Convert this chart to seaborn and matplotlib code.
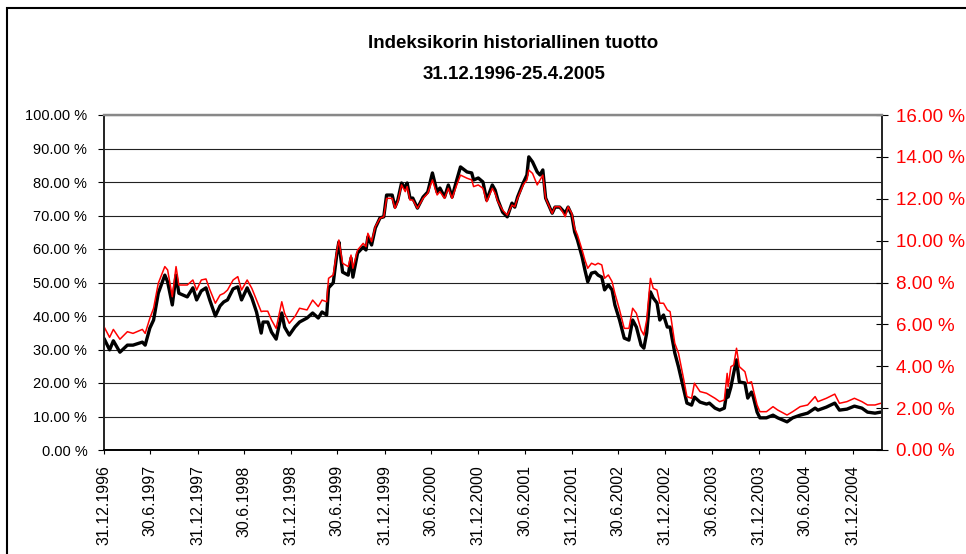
import datetime as dt
import numpy as np
import pandas as pd
import matplotlib
matplotlib.use("Agg")
import matplotlib.pyplot as plt
from matplotlib import font_manager as fm
from matplotlib.patches import Rectangle
from matplotlib.ticker import FuncFormatter
import seaborn as sns

# ---------------- data ----------------
title_line1 = "Indeksikorin historiallinen tuotto"
title_line2 = "31.12.1996-25.4.2005"

start_date = "1996-12-31"
end_date = "2005-04-25"

# time in fractional years (1997.00 == 31.12.1996)
years = [
    1997.00, 1997.06, 1997.10, 1997.17, 1997.25, 1997.31, 1997.41, 1997.44, 1997.49, 1997.53,
    1997.58, 1997.65, 1997.68, 1997.73, 1997.77, 1997.80, 1997.89, 1997.95, 1997.99, 1998.04,
    1998.09, 1998.13, 1998.19, 1998.24, 1998.28, 1998.32, 1998.38, 1998.43, 1998.47, 1998.53,
    1998.58, 1998.63, 1998.68, 1998.70, 1998.75, 1998.79, 1998.84, 1998.90, 1998.93, 1998.98,
    1999.04, 1999.09, 1999.17, 1999.23, 1999.29, 1999.33, 1999.38, 1999.40, 1999.45, 1999.49,
    1999.51, 1999.55, 1999.61, 1999.64, 1999.66, 1999.71, 1999.77, 1999.80, 1999.82, 1999.86,
    1999.90, 1999.95, 1999.99, 2000.02, 2000.08, 2000.11, 2000.14, 2000.18, 2000.22, 2000.24,
    2000.27, 2000.30, 2000.35, 2000.41, 2000.46, 2000.51, 2000.56, 2000.59, 2000.64, 2000.68,
    2000.72, 2000.77, 2000.81, 2000.88, 2000.93, 2000.95, 2001.00, 2001.05, 2001.09, 2001.15,
    2001.18, 2001.21, 2001.26, 2001.31, 2001.36, 2001.39, 2001.42, 2001.48, 2001.52, 2001.54,
    2001.58, 2001.63, 2001.66, 2001.69, 2001.72, 2001.79, 2001.82, 2001.87, 2001.93, 2001.96,
    2002.00, 2002.03, 2002.06, 2002.11, 2002.14, 2002.17, 2002.21, 2002.25, 2002.28, 2002.32,
    2002.35, 2002.39, 2002.43, 2002.46, 2002.51, 2002.56, 2002.61, 2002.65, 2002.69, 2002.74,
    2002.77, 2002.80, 2002.84, 2002.87, 2002.91, 2002.94, 2002.98, 2003.02, 2003.05, 2003.10,
    2003.14, 2003.19, 2003.23, 2003.28, 2003.31, 2003.37, 2003.44, 2003.47, 2003.53, 2003.58,
    2003.63, 2003.66, 2003.67, 2003.70, 2003.73, 2003.76, 2003.79, 2003.85, 2003.88, 2003.92,
    2003.94, 2003.98, 2004.01, 2004.08, 2004.15, 2004.20, 2004.30, 2004.36, 2004.44, 2004.52,
    2004.60, 2004.63, 2004.72, 2004.81, 2004.86, 2004.94, 2005.02, 2005.10, 2005.16, 2005.24,
    2005.30,
]

# index basket return (left axis, %)
index_return = [
    33.3, 29.9, 32.6, 29.2, 31.3, 31.3, 32.2, 31.3, 36.4, 38.8,
    46.8, 52.2, 50.2, 43.3, 52.2, 46.8, 45.7, 48.4, 44.8, 47.5,
    48.4, 44.8, 40.0, 43.0, 44.2, 44.8, 48.1, 48.7, 44.8, 48.4,
    45.4, 41.2, 34.9, 38.2, 38.2, 35.2, 33.1, 40.9, 36.7, 34.3,
    36.7, 38.2, 39.4, 40.9, 39.4, 41.2, 40.3, 48.4, 49.9, 58.8,
    62.1, 53.1, 52.2, 57.3, 51.6, 58.8, 60.6, 59.7, 63.6, 61.2,
    66.3, 69.3, 69.6, 76.1, 76.1, 72.5, 74.6, 79.7, 78.2, 79.7,
    75.2, 75.2, 72.2, 75.5, 77.0, 82.7, 77.0, 78.2, 75.5, 79.1,
    75.5, 80.6, 84.5, 83.0, 82.7, 80.6, 81.2, 80.0, 74.6, 79.1,
    77.6, 74.6, 71.0, 69.6, 73.7, 72.5, 75.5, 79.7, 82.1, 87.5,
    86.0, 83.0, 82.1, 83.6, 75.2, 70.7, 72.5, 72.5, 70.7, 72.5,
    70.1, 65.1, 62.7, 57.6, 53.7, 50.2, 52.8, 53.1, 52.2, 51.6,
    47.8, 49.3, 47.8, 43.3, 38.8, 33.4, 32.8, 38.8, 36.7, 31.3,
    30.4, 34.9, 47.2, 45.4, 43.9, 38.8, 40.3, 36.7, 36.7, 29.0,
    24.8, 18.8, 14.0, 13.4, 15.8, 14.3, 13.7, 14.0, 12.5, 11.9,
    12.5, 17.9, 15.8, 18.8, 23.0, 26.9, 20.3, 20.0, 15.5, 17.3,
    15.8, 11.3, 9.6, 9.6, 10.4, 9.6, 8.4, 9.6, 10.4, 11.0,
    12.5, 11.9, 12.8, 14.0, 11.9, 12.2, 13.1, 12.5, 11.3, 11.0,
    11.3,
]

# second series (right axis, %)
annual_return = [
    5.89, 5.38, 5.76, 5.29, 5.65, 5.57, 5.76, 5.57, 6.29, 6.77,
    7.96, 8.76, 8.60, 7.32, 8.76, 7.88, 7.88, 8.12, 7.64, 8.12,
    8.17, 7.67, 7.01, 7.40, 7.48, 7.64, 8.12, 8.28, 7.64, 8.12,
    7.72, 7.16, 6.61, 6.63, 6.63, 6.21, 5.81, 7.08, 6.53, 6.05,
    6.37, 6.77, 6.69, 7.16, 6.85, 7.16, 7.08, 8.20, 8.36, 9.55,
    10.03, 8.92, 8.76, 9.31, 8.68, 9.55, 9.87, 9.71, 10.35, 9.95,
    10.67, 11.07, 11.14, 12.02, 12.02, 11.54, 11.86, 12.66, 12.34, 12.58,
    11.94, 11.94, 11.54, 12.02, 12.26, 12.90, 12.18, 12.34, 12.02, 12.50,
    12.02, 12.66, 13.13, 12.98, 12.90, 12.58, 12.66, 12.50, 11.86, 12.50,
    12.26, 11.86, 11.46, 11.22, 11.70, 11.62, 12.02, 12.66, 12.90, 13.37,
    13.21, 12.66, 12.90, 13.13, 12.02, 11.30, 11.62, 11.62, 11.14, 11.62,
    11.30, 10.59, 10.27, 9.55, 9.07, 8.68, 8.92, 8.84, 8.92, 8.84,
    8.20, 8.36, 8.04, 7.48, 6.69, 5.81, 5.81, 6.77, 6.53, 5.73,
    5.49, 6.21, 8.20, 7.72, 7.64, 7.01, 7.01, 6.69, 6.61, 5.10,
    4.62, 3.50, 2.55, 2.47, 3.19, 2.79, 2.71, 2.63, 2.47, 2.31,
    2.39, 3.66, 3.02, 3.98, 4.06, 4.86, 3.98, 3.74, 3.19, 3.26,
    2.87, 2.15, 1.83, 1.83, 2.07, 1.91, 1.67, 1.83, 2.07, 2.15,
    2.55, 2.31, 2.47, 2.67, 2.23, 2.31, 2.47, 2.31, 2.15, 2.15,
    2.23,
]

x_tick_labels = [
    "31.12.1996", "30.6.1997", "31.12.1997", "30.6.1998", "31.12.1998",
    "30.6.1999", "31.12.1999", "30.6.2000", "31.12.2000", "30.6.2001",
    "31.12.2001", "30.6.2002", "31.12.2002", "30.6.2003", "31.12.2003",
    "30.6.2004", "31.12.2004",
]
left_ticks = [0, 10, 20, 30, 40, 50, 60, 70, 80, 90, 100]
right_ticks = [0, 2, 4, 6, 8, 10, 12, 14, 16]

# ---------------- build frame ----------------
t0 = pd.Timestamp(start_date)
dates = [t0 + pd.Timedelta(days=(y - 1997.0) * 365.25) for y in years]
df = pd.DataFrame({"date": dates, "index": index_return, "annual": annual_return})
tick_dates = [pd.to_datetime(s, format="%d.%m.%Y") for s in x_tick_labels]

# ---------------- style ----------------
sns.set_style("white")
names = {f.name for f in fm.fontManager.ttflist}
base_font = "Liberation Sans" if "Liberation Sans" in names else "DejaVu Sans"
narrow_font = "Liberation Sans Narrow" if "Liberation Sans Narrow" in names else base_font
title_size = 15 if narrow_font != base_font else 13.5
plt.rcParams["font.family"] = [base_font, "DejaVu Sans"]
plt.rcParams["text.color"] = "black"
plt.rcParams["xtick.color"] = "black"
plt.rcParams["ytick.color"] = "black"
plt.rcParams["axes.labelcolor"] = "black"

W, H = 966, 554
fig = plt.figure(figsize=(W / 100, H / 100), dpi=100)
fig.patch.set_facecolor("white")

left, right, top, bottom = 104, 882, 115, 450
ax = fig.add_axes([left / W, 1 - bottom / H, (right - left) / W, (bottom - top) / H])
ax2 = ax.twinx()

# outer chart border
fig.patches.append(Rectangle((7 / W, -0.1), 1.2, 1.1 - 8 / H, transform=fig.transFigure,
                             fill=False, edgecolor="black", linewidth=1.5, zorder=0))

sns.lineplot(data=df, x="date", y="index", ax=ax, color="black", linewidth=2.4)
sns.lineplot(data=df, x="date", y="annual", ax=ax2, color="#ff0000", linewidth=1.1)

ax.set_xlim(pd.Timestamp(start_date), pd.Timestamp(end_date))
ax.set_ylim(0, 100)
ax2.set_ylim(0, 16)

ax.set_yticks(left_ticks)
ax.yaxis.set_major_formatter(FuncFormatter(lambda v, p: f"{v:.2f} %"))
ax2.set_yticks(right_ticks)
ax2.yaxis.set_major_formatter(FuncFormatter(lambda v, p: f"{v:.2f} %"))

ax.set_xticks(tick_dates)
ax.set_xticklabels(x_tick_labels, rotation=90, fontsize=11.5)

ax.grid(axis="y", color="#222222", linewidth=0.8)
ax.grid(axis="x", visible=False)
ax.set_axisbelow(True)

ax.tick_params(axis="y", direction="out", length=4, width=0.8, pad=8, labelsize=10.5,
               colors="black", left=True)
ax.tick_params(axis="x", direction="out", length=3, width=0.8, pad=8, bottom=True,
               colors="black")
ax2.tick_params(axis="y", direction="inout", length=8, width=0.8, pad=6, labelsize=13.5,
                labelcolor="#ff0000", color="black", right=True)

for a in (ax, ax2):
    a.set_xlabel("")
    a.set_ylabel("")
    a.spines["top"].set_color("#888888")
    a.spines["top"].set_linewidth(1.6)
    a.spines["left"].set_color("#222222")
    a.spines["left"].set_linewidth(1.2)
    a.spines["right"].set_color("#222222")
    a.spines["right"].set_linewidth(1.2)
    a.spines["bottom"].set_color("black")
    a.spines["bottom"].set_linewidth(1.2)

ax.set_facecolor("white")
ax2.patch.set_alpha(0)
ax.set_zorder(1)
ax2.set_zorder(2)

fig.text(513 / W, 1 - 48 / H, title_line1, ha="center", va="baseline", color="black",
         fontsize=title_size, fontweight="bold", family=[narrow_font, "DejaVu Sans"])
fig.text(514 / W, 1 - 79 / H, title_line2, ha="center", va="baseline", color="black",
         fontsize=title_size, fontweight="bold", family=[narrow_font, "DejaVu Sans"])

fig.savefig("out.png", dpi=100)
